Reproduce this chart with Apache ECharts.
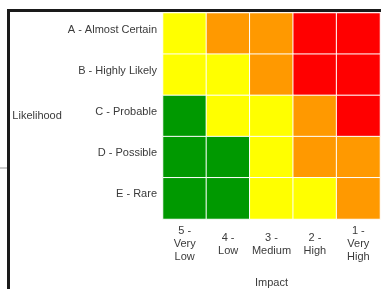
<!DOCTYPE html>
<html>
<head>
<meta charset="utf-8">
<script src="https://cdn.jsdelivr.net/npm/echarts@6/dist/echarts.min.js"></script>
<style>
  html, body { margin: 0; padding: 0; background: #fff; }
  #chart { width: 381px; height: 289px; }
</style>
</head>
<body>
<div id="chart"></div>
<script>
// impact columns, left to right
const impactLabels = ['5 -\nVery\nLow', '4 -\nLow', '3 -\nMedium', '2 -\nHigh', '1 -\nVery\nHigh'];
// likelihood rows, top to bottom
const likelihoodLabels = ['A - Almost Certain', 'B - Highly Likely', 'C - Probable', 'D - Possible', 'E - Rare'];

// risk level per cell: 1 = low (green), 2 = medium (yellow), 3 = high (orange), 4 = extreme (red)
const rowA = [2, 3, 3, 4, 4];
const rowB = [2, 2, 3, 4, 4];
const rowC = [1, 2, 2, 3, 4];
const rowD = [1, 1, 2, 3, 3];
const rowE = [1, 1, 2, 2, 3];
const riskRows = [rowA, rowB, rowC, rowD, rowE];

const levelColors = ['#009900', '#ffff00', '#ff9900', '#ff0000'];

let cells = [];
riskRows.forEach(function (row, r) {
    row.forEach(function (level, c) {
        cells.push([c, r, level]);
    });
});

const myChart = echarts.init(document.getElementById('chart'));
const textColor = '#3a3a3a';
const font = 'Liberation Sans, Arial, sans-serif';

myChart.setOption({
    animation: false,
    grid: { left: 163, right: 1, top: 13, bottom: 70, outerBoundsMode: 'none', containLabel: false },
    xAxis: {
        type: 'category',
        data: impactLabels,
        name: 'Impact',
        nameLocation: 'middle',
        nameGap: 58,
        nameTextStyle: { color: textColor, fontSize: 11, fontFamily: font },
        axisLine: { show: false },
        axisTick: { show: false },
        splitLine: { show: false },
        axisLabel: {
            color: textColor, fontSize: 11, fontFamily: font,
            lineHeight: 13, margin: 25, verticalAlign: 'middle', interval: 0
        }
    },
    yAxis: {
        type: 'category',
        data: likelihoodLabels,
        inverse: true,
        name: 'Likelihood',
        nameLocation: 'middle',
        nameRotate: 0,
        nameGap: 101,
        nameTextStyle: { color: textColor, fontSize: 11, fontFamily: font, align: 'right', verticalAlign: 'middle' },
        axisLine: { show: false },
        axisTick: { show: false },
        splitLine: { show: false },
        axisLabel: {
            color: textColor, fontSize: 11, fontFamily: font,
            margin: 6, verticalAlign: 'bottom', lineHeight: 8
        }
    },
    visualMap: {
        type: 'piecewise',
        show: false,
        dimension: 2,
        pieces: levelColors.map(function (color, i) {
            return { value: i + 1, color: color };
        })
    },
    graphic: [
        { type: 'rect', shape: { x: 7, y: 9, width: 374, height: 3 }, style: { fill: '#1a1a1a' } },
        { type: 'rect', shape: { x: 7, y: 9, width: 3, height: 280 }, style: { fill: '#1a1a1a' } },
        { type: 'rect', shape: { x: 0, y: 167, width: 7, height: 2 }, style: { fill: '#cccccc' } }
    ],
    series: [{
        type: 'heatmap',
        data: cells,
        itemStyle: { borderColor: '#fff', borderWidth: 1 },
        emphasis: { disabled: true }
    }]
});
</script>
</body>
</html>
